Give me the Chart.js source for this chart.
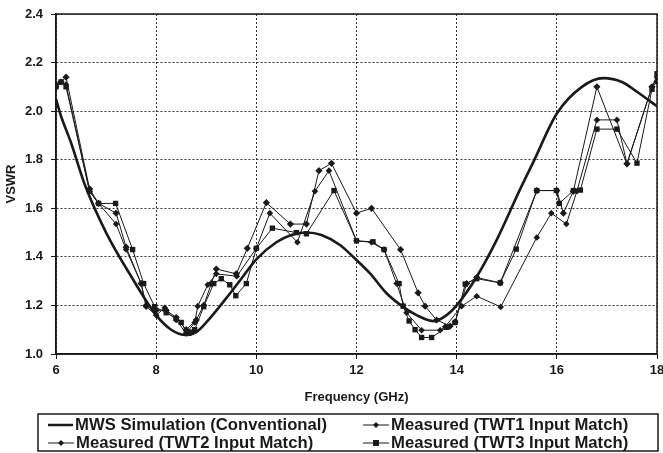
<!DOCTYPE html>
<html><head><meta charset="utf-8">
<script src="https://cdn.jsdelivr.net/npm/chart.js@4/dist/chart.umd.min.js"></script>
<style>html,body{margin:0;padding:0;background:#fff}#wrap{width:663px;height:453px;position:relative}</style>
</head><body><div id="wrap"><canvas id="c" width="663" height="453"></canvas></div>
<script>
const simFreq = [6.0,6.1,6.3,6.57,7.0,7.5,8.0,8.3,8.6,8.8,9.0,9.4,9.7,10.0,10.4,10.7,11.0,11.3,11.67,12.0,12.27,12.6,12.93,13.2,13.55,13.8,14.0,14.4,14.8,15.27,15.53,16.0,16.5,16.93,17.3,17.6,18.0];
const simVswr = [2.05,1.98,1.87,1.70,1.50,1.32,1.16,1.10,1.078,1.09,1.13,1.23,1.31,1.39,1.46,1.49,1.50,1.49,1.449,1.387,1.332,1.25,1.194,1.16,1.135,1.16,1.20,1.318,1.47,1.68,1.79,1.99,2.10,2.136,2.12,2.08,2.02];

const twt1Freq = [6.0,6.1,6.2,6.67,6.85,7.2,7.4,7.7,7.8,8.0,8.2,8.4,8.6,8.8,8.95,9.1,9.2,9.6,9.82,10.2,10.68,11.0,11.25,11.5,12.0,12.3,12.88,13.23,13.37,13.6,13.87,13.97,14.2,14.4,14.87,15.6,16.0,16.13,16.33,16.8,17.4,17.9,18.0];
const twt1Vswr = [2.11,2.12,2.14,1.68,1.62,1.58,1.44,1.29,1.20,1.18,1.18,1.15,1.10,1.14,1.20,1.29,1.35,1.33,1.435,1.623,1.535,1.535,1.755,1.785,1.58,1.60,1.43,1.252,1.197,1.14,1.115,1.132,1.29,1.315,1.293,1.673,1.673,1.58,1.67,2.10,1.783,2.10,2.12];

const twt2Freq = [6.0,6.1,6.2,6.67,6.85,7.2,7.4,7.7,7.8,8.0,8.17,8.4,8.6,8.77,8.83,9.03,9.2,9.61,10.0,10.27,10.82,11.17,11.45,12.0,12.3,12.55,12.8,13.0,13.3,13.67,13.77,14.1,14.4,14.88,15.6,15.89,16.19,16.4,16.8,17.2,17.4,17.9,18.0];
const twt2Vswr = [2.10,2.12,2.11,1.67,1.62,1.535,1.43,1.29,1.195,1.16,1.19,1.14,1.085,1.13,1.197,1.285,1.33,1.32,1.435,1.58,1.46,1.67,1.755,1.466,1.46,1.43,1.29,1.17,1.098,1.098,1.112,1.197,1.238,1.194,1.48,1.58,1.535,1.67,1.964,1.964,1.783,2.10,2.14];

const twt3Freq = [6.0,6.1,6.2,6.67,6.85,7.19,7.53,7.75,7.97,8.2,8.4,8.5,8.6,8.7,8.77,8.95,9.15,9.3,9.47,9.59,9.8,10.0,10.32,10.8,11.0,11.55,12.0,12.33,12.55,12.85,12.93,13.05,13.17,13.3,13.5,13.8,13.97,14.17,14.4,14.87,15.19,15.6,15.99,16.05,16.33,16.47,16.8,17.2,17.6,17.9,18.0];
const twt3Vswr = [2.10,2.12,2.10,1.67,1.62,1.62,1.43,1.29,1.195,1.17,1.146,1.13,1.09,1.09,1.10,1.195,1.29,1.31,1.285,1.24,1.29,1.435,1.518,1.50,1.495,1.673,1.466,1.462,1.43,1.29,1.197,1.136,1.10,1.068,1.068,1.11,1.13,1.288,1.31,1.293,1.432,1.673,1.673,1.62,1.673,1.675,1.926,1.926,1.786,2.09,2.154];

const xTicks = [6,8,10,12,14,16,18];
const yTicks = [1.0,1.2,1.4,1.6,1.8,2.0,2.2,2.4];
const seriesNames = ['MWS Simulation (Conventional)','Measured (TWT1 Input Match)','Measured (TWT2 Input Match)','Measured (TWT3 Input Match)'];

const pts = (fx, vy) => fx.map((f,i)=>({x:f,y:vy[i]}));
const FONT = 'Liberation Sans, Arial, sans-serif';
const INK = '#1a1a1a';

function diamond(ctx,x,y,r){ctx.beginPath();ctx.moveTo(x,y-r);ctx.lineTo(x+r,y);ctx.lineTo(x,y+r);ctx.lineTo(x-r,y);ctx.closePath();ctx.fill();}
function square(ctx,x,y,r){ctx.fillRect(x-r,y-r,2*r,2*r);}

const extras = {
  id:'extras',
  afterDraw(chart){
    const ctx = chart.ctx, a = chart.chartArea;
    ctx.save();
    ctx.strokeStyle = INK; ctx.lineWidth = 1.5;
    ctx.strokeRect(a.left, a.top, a.right-a.left, a.bottom-a.top);
    ctx.fillStyle = INK;
    ctx.font = 'bold 13px ' + FONT;
    ctx.textAlign = 'center'; ctx.textBaseline = 'middle';
    ctx.fillText('Frequency (GHz)', (a.left+a.right)/2, 397);
    // legend box
    ctx.lineWidth = 1.5;
    ctx.strokeRect(38, 414, 620, 37);
    ctx.textAlign = 'left';
    ctx.font = 'bold 16px ' + FONT;
    const sx = 252 / ctx.measureText(seriesNames[0]).width;
    const items = [[48,425,0],[363,425,1],[48,443,2],[363,443,3]];
    items.forEach(([x,y,k])=>{
      ctx.strokeStyle = INK; ctx.fillStyle = INK;
      ctx.lineWidth = k===0 ? 2.5 : 1;
      const len = k===0 ? 25 : 26;
      ctx.beginPath(); ctx.moveTo(x, y); ctx.lineTo(x+len, y); ctx.stroke();
      if (k===1||k===2) diamond(ctx, x+len/2, y, 3);
      if (k===3) square(ctx, x+len/2, y, 3);
      ctx.save();
      ctx.translate(x+len+2, y+0.5);
      ctx.scale(sx, 1);
      ctx.fillText(seriesNames[k], 0, 0);
      ctx.restore();
    });
    ctx.restore();
  }
};

new Chart(document.getElementById('c'), {
  type:'line',
  data:{datasets:[
    {label:seriesNames[0], data:pts(simFreq,simVswr), borderColor:INK, borderWidth:2.6, pointRadius:0, tension:0.4, cubicInterpolationMode:'monotone', order:4},
    {label:seriesNames[1], data:pts(twt1Freq,twt1Vswr), borderColor:INK, backgroundColor:INK, borderWidth:1, pointStyle:'rectRot', pointRadius:3.6, pointBorderWidth:0, tension:0, order:3},
    {label:seriesNames[2], data:pts(twt2Freq,twt2Vswr), borderColor:INK, backgroundColor:INK, borderWidth:1, pointStyle:'rectRot', pointRadius:3.3, pointBorderWidth:0, tension:0, order:2},
    {label:seriesNames[3], data:pts(twt3Freq,twt3Vswr), borderColor:INK, backgroundColor:INK, borderWidth:1, pointStyle:'rect', pointRadius:3.8, pointBorderWidth:0, tension:0, order:1}
  ]},
  options:{
    responsive:false, animation:false,
    layout:{padding:{top:14,right:6,left:0,bottom:0}},
    plugins:{legend:{display:false}, tooltip:{enabled:false}},
    scales:{
      x:{type:'linear', min:6, max:18,
        afterBuildTicks:(s)=>{s.ticks = xTicks.map(v=>({value:v}));},
        afterFit:(s)=>{s.height = 99; s.paddingLeft = 0; s.paddingRight = 0;},
        ticks:{color:INK, font:{family:FONT, size:13, weight:'bold'}, padding:4, maxRotation:0, callback:(v)=>String(v)},
        grid:{color:'#333', lineWidth:1, tickLength:5, tickColor:INK, tickBorderDash:[]},
        border:{display:true, color:INK, width:1.5, dash:[2,2]}
      },
      y:{type:'linear', min:1.0, max:2.4,
        afterBuildTicks:(s)=>{s.ticks = yTicks.map(v=>({value:v}));},
        afterFit:(s)=>{s.width = 56; s.paddingTop = 0; s.paddingBottom = 0;},
        ticks:{color:INK, font:{family:FONT, size:13, weight:'bold'}, padding:8, callback:(v)=>Number(v).toFixed(1)},
        grid:{color:'#333', lineWidth:1, tickLength:5, tickColor:INK, tickBorderDash:[]},
        border:{display:true, color:INK, width:1.5, dash:[2,2]},
        title:{display:true, text:'VSWR', color:INK, font:{family:FONT, size:13, weight:'bold'}, padding:{top:4,bottom:2}}
      }
    }
  },
  plugins:[extras]
});
</script></body></html>
